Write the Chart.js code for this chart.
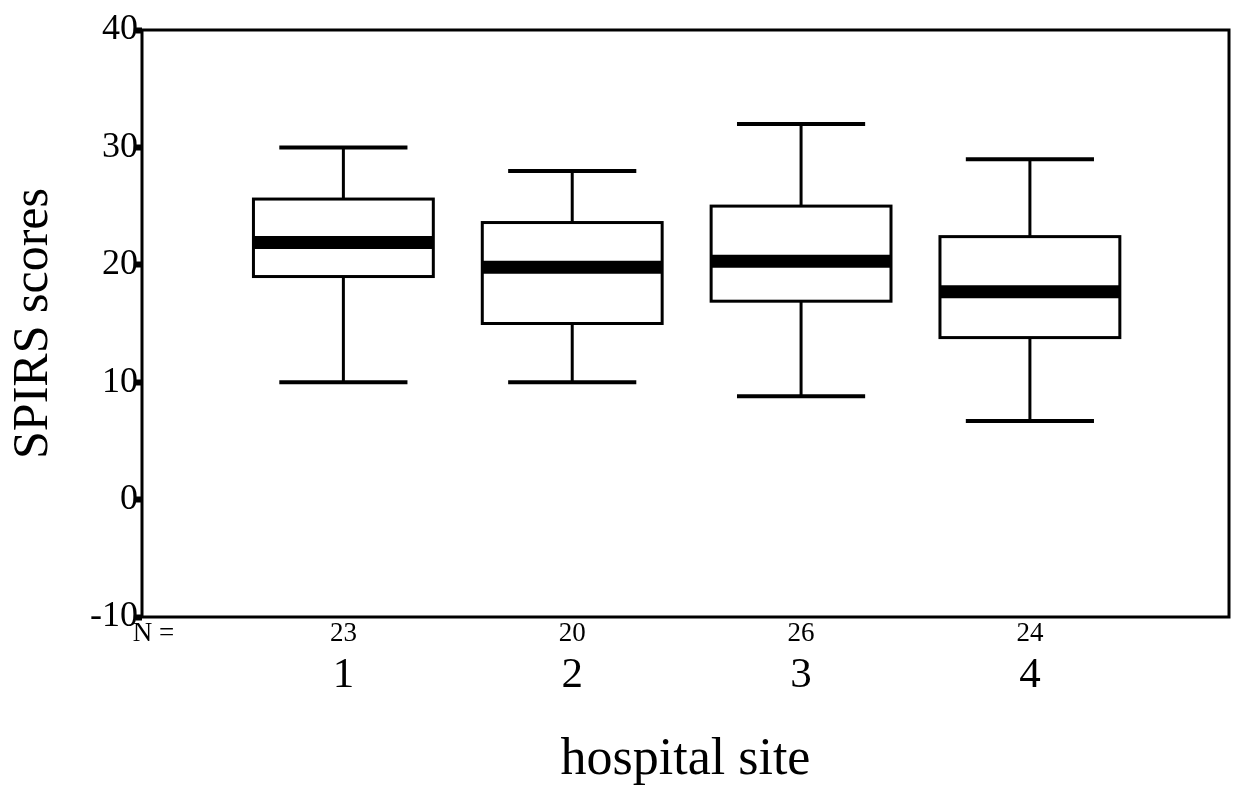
<!DOCTYPE html>
<html lang="en">
<head>
<meta charset="UTF-8">
<title>SPIRS scores by hospital site</title>
<script src="https://cdn.jsdelivr.net/npm/chart.js"></script>
<style>
  html, body { margin: 0; padding: 0; background: #fff; }
  #caixa { width: 1235px; height: 786px; }
</style>
</head>
<body>
<div id="caixa"><canvas id="grafico"></canvas></div>

<script>
  // values
  var sites = [1, 2, 3, 4];
  var nCasos = [23, 20, 26, 24];
  var minimos = [10, 10, 8.8, 6.7];
  var q1 = [19, 15, 16.9, 13.8];
  var medianas = [21.9, 19.8, 20.3, 17.7];
  var q3 = [25.6, 23.6, 25, 22.4];
  var maximos = [30, 28, 32, 29];
  var yTicks = [-10, 0, 10, 20, 30, 40];

  var fonte = "'Liberation Serif', 'Times New Roman', serif";

  // draws the boxes from the arrays, through the chart's own scales
  var boxPlot = {
    id: 'boxPlot',
    afterDatasetsDraw: function (chart) {
      var ctx = chart.ctx;
      var x = chart.scales.x;
      var y = chart.scales.y;
      var area = chart.chartArea;

      function linha(x1, y1, x2, y2, w) {
        ctx.lineWidth = w;
        ctx.beginPath();
        ctx.moveTo(x1, y1);
        ctx.lineTo(x2, y2);
        ctx.stroke();
      }

      ctx.save();
      ctx.strokeStyle = '#000';
      for (var i = 0; i < sites.length; i++) {
        var cx = x.getPixelForValue(sites[i]);
        var esq = x.getPixelForValue(sites[i] - 0.393);
        var dir = x.getPixelForValue(sites[i] + 0.393);
        var capE = x.getPixelForValue(sites[i] - 0.28);
        var capD = x.getPixelForValue(sites[i] + 0.28);
        var yMin = y.getPixelForValue(minimos[i]);
        var yQ1 = y.getPixelForValue(q1[i]);
        var yMed = y.getPixelForValue(medianas[i]);
        var yQ3 = y.getPixelForValue(q3[i]);
        var yMax = y.getPixelForValue(maximos[i]);

        linha(cx, yMax, cx, yQ3, 3);
        linha(cx, yQ1, cx, yMin, 3);
        linha(capE, yMax, capD, yMax, 4);
        linha(capE, yMin, capD, yMin, 4);

        ctx.lineWidth = 3;
        ctx.strokeRect(esq, yQ3, dir - esq, yQ1 - yQ3);
        linha(esq, yMed, dir, yMed, 13);
      }
      ctx.lineWidth = 3;
      ctx.strokeRect(area.left, area.top, area.right - area.left, area.bottom - area.top);
      ctx.restore();
    }
  };

  var pontos = sites.map(function (s, i) { return { x: s, y: medianas[i] }; });

  var config = {
    type: 'scatter',
    data: {
      datasets: [{
        data: pontos,
        pointRadius: 0,
        xAxisID: 'x',
        yAxisID: 'y'
      }]
    },
    options: {
      responsive: true,
      maintainAspectRatio: false,
      animation: false,
      layout: { padding: { top: 30, right: 6, left: 0, bottom: 0 } },
      plugins: { legend: { display: false }, tooltip: { enabled: false } },
      scales: {
        y: {
          type: 'linear',
          position: 'left',
          min: -10,
          max: 40,
          afterBuildTicks: function (s) { s.ticks = yTicks.map(function (v) { return { value: v }; }); },
          afterFit: function (s) { s.width = 142; },
          border: { display: false },
          grid: { drawOnChartArea: false, tickLength: 6, tickWidth: 6, color: '#000' },
          ticks: { color: '#000', padding: -2, font: { family: fonte, size: 36 } },
          title: {
            display: true,
            text: 'SPIRS scores',
            color: '#000',
            padding: { top: 4, bottom: 0 },
            font: { family: fonte, size: 50 }
          }
        },
        xn: {
          type: 'linear',
          position: 'bottom',
          weight: 0,
          min: 0.12,
          max: 4.87,
          afterBuildTicks: function (s) {
            s.ticks = [{ value: 0.17 }].concat(sites.map(function (v) { return { value: v }; }));
          },
          afterFit: function (s) { s.height = 33; },
          border: { display: false },
          grid: { display: false, drawTicks: false },
          ticks: {
            color: '#000',
            padding: 1,
            maxRotation: 0,
            autoSkip: false,
            font: { family: fonte, size: 27 },
            callback: function (v) {
              if (v < 0.5) return 'N =';
              return String(nCasos[sites.indexOf(v)]);
            }
          }
        },
        x: {
          type: 'linear',
          position: 'bottom',
          weight: 1,
          min: 0.12,
          max: 4.87,
          afterBuildTicks: function (s) { s.ticks = sites.map(function (v) { return { value: v }; }); },
          afterFit: function (s) { s.height = 136; },
          border: { display: false },
          grid: { display: false, drawTicks: false },
          ticks: {
            color: '#000',
            padding: 0,
            maxRotation: 0,
            autoSkip: false,
            font: { family: fonte, size: 43 }
          },
          title: {
            display: true,
            text: 'hospital site',
            color: '#000',
            padding: { top: 0, bottom: 0 },
            font: { family: fonte, size: 52, lineHeight: 1 }
          }
        }
      }
    },
    plugins: [boxPlot]
  };

  new Chart(document.getElementById('grafico'), config);
</script>
</body>
</html>
